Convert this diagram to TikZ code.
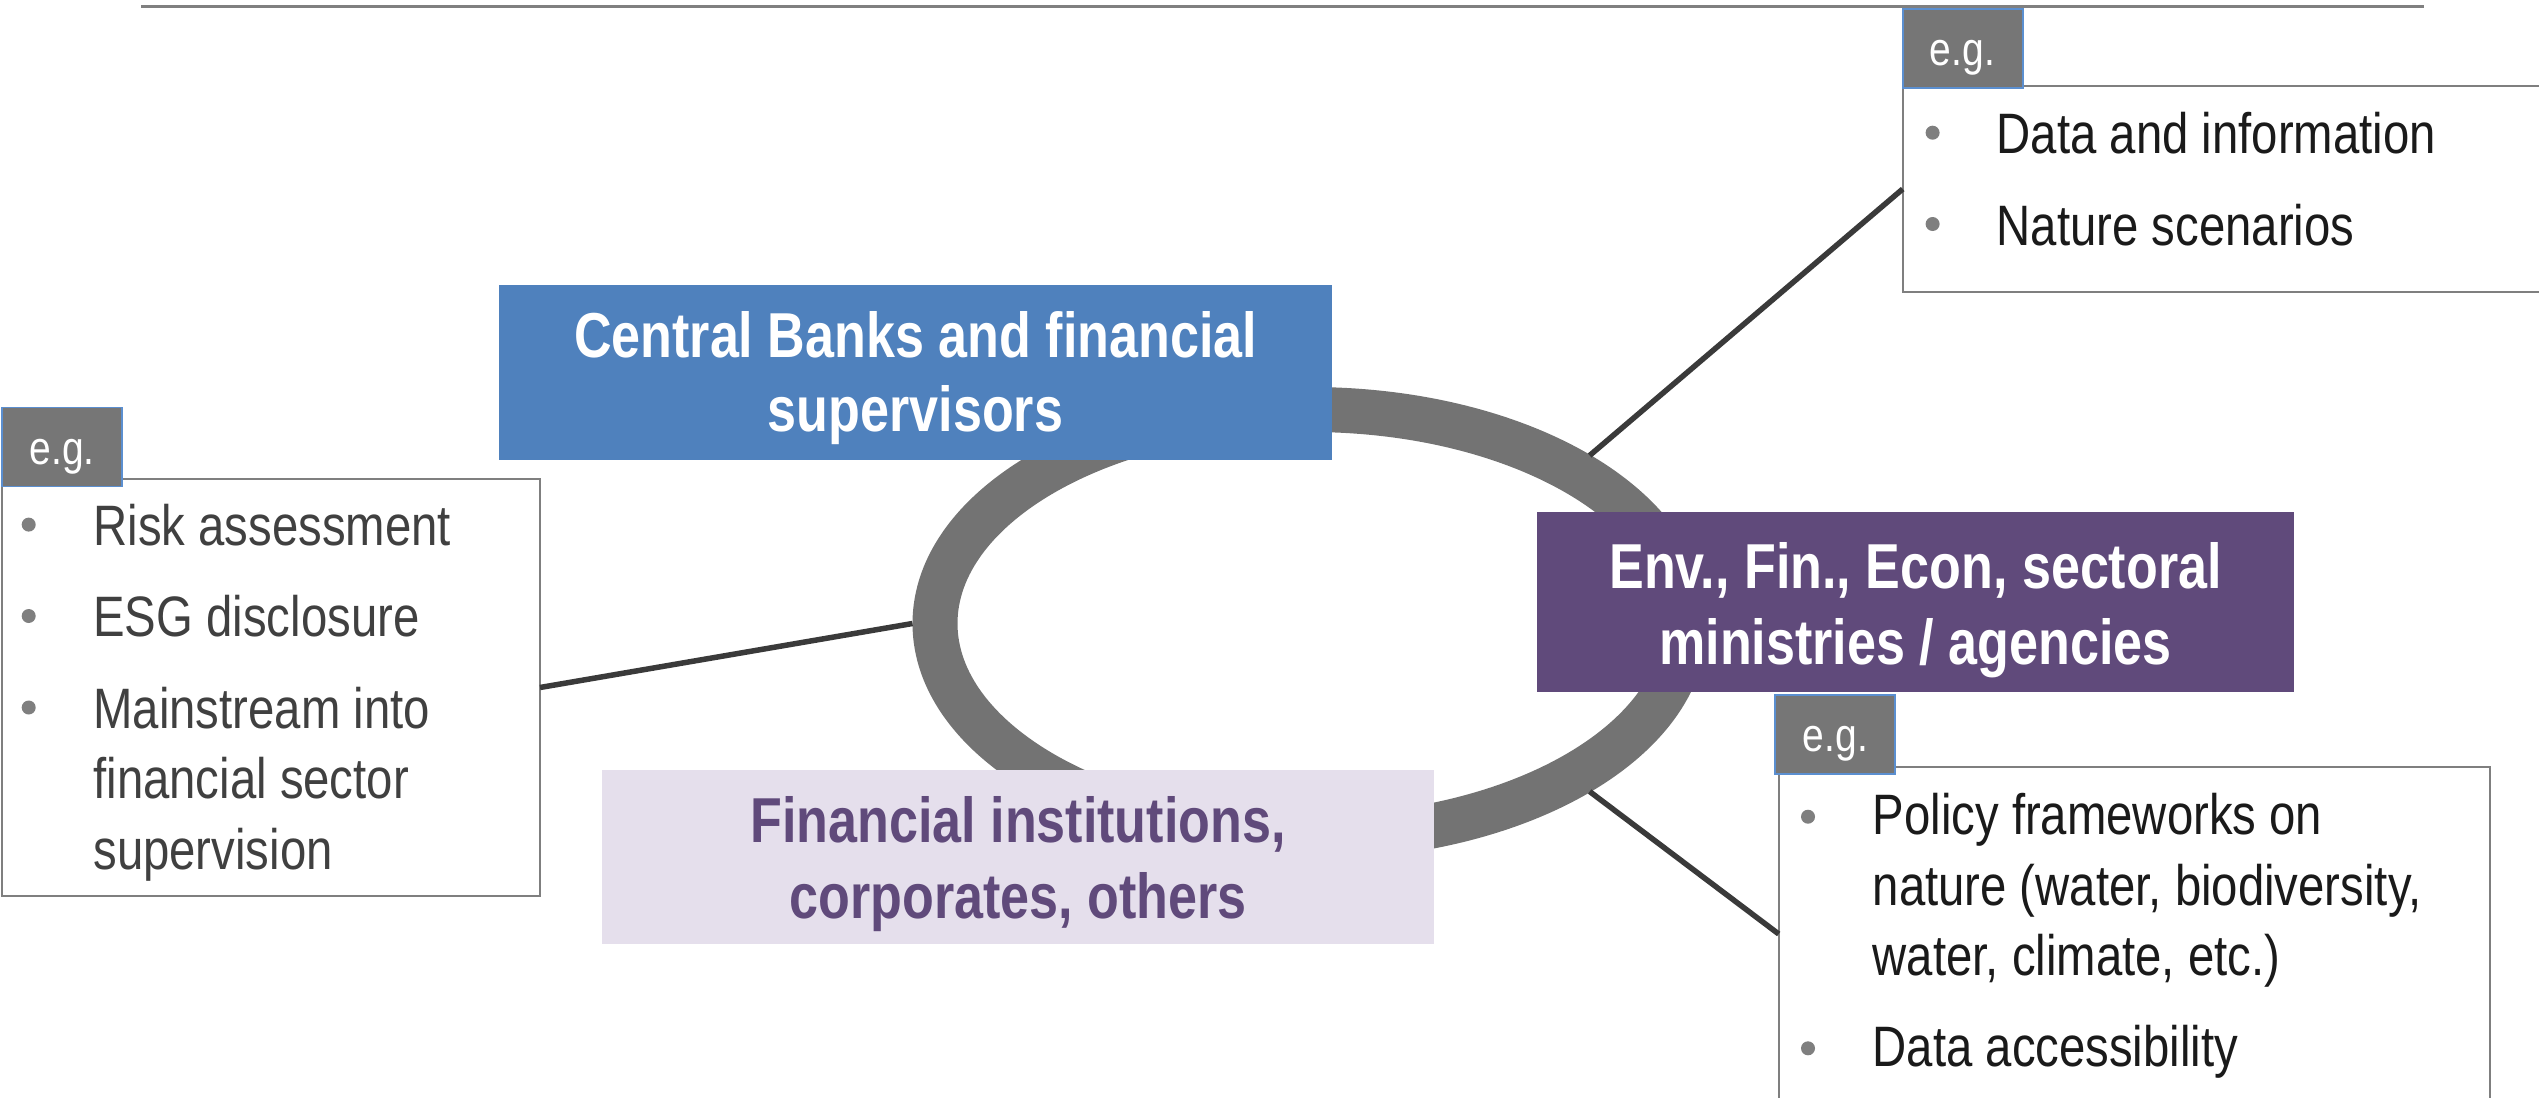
\documentclass[tikz,border=0pt]{standalone}
\usepackage{fontspec}
\setmainfont{Liberation Sans}[FakeStretch=0.83]
\newfontfamily\titlefont{Liberation Sans Bold}[FakeStretch=0.82]
\usetikzlibrary{shapes.geometric}
\definecolor{cbblue}{RGB}{79,129,189}
\definecolor{minpurple}{RGB}{96,74,123}
\definecolor{lavender}{RGB}{229,223,236}
\definecolor{ringgray}{RGB}{115,115,115}
\definecolor{conngray}{RGB}{58,58,58}
\definecolor{boxgray}{RGB}{127,127,127}
\definecolor{tabgray}{RGB}{118,118,118}
\definecolor{tabblue}{RGB}{91,143,208}
\definecolor{bulgray}{RGB}{127,127,127}
\definecolor{txtdark}{RGB}{64,64,64}
\definecolor{txtblack}{RGB}{26,26,26}
\definecolor{rulegray}{RGB}{128,128,128}
\begin{document}
\begin{tikzpicture}[x=0.5pt,y=-0.5pt,
  listbox/.style={draw=boxgray,line width=1pt,fill=white,inner sep=0,outer sep=0,anchor=north west},
  tabbox/.style={draw=tabblue,line width=0.8pt,fill=tabgray,inner sep=0,outer sep=0,anchor=north west,minimum width=60pt,minimum height=39.5pt},
  titlebox/.style={inner sep=0,outer sep=0,anchor=north west},
  egtext/.style={text=white,font=\fontsize{23.5}{28}\selectfont,inner sep=0,anchor=base},
  itemtext/.style={font=\fontsize{28.5}{35.5}\selectfont,inner sep=0,anchor=base west},
  titletext/.style={font=\titlefont\fontsize{31.75}{37.75}\selectfont,inner sep=0,anchor=base},
  bul/.style={circle,fill=bulgray,inner sep=0,minimum size=7pt},
  conn/.style={draw=conngray,line width=2.75pt}]
\useasboundingbox (0,0) rectangle (2539,1098);
% top rule
\coordinate (ruleL) at (141,6.5);
\coordinate (ruleR) at (2424,6.5);
\draw[rulegray,line width=1.3pt] (ruleL) -- (ruleR);
% ring
\node[ellipse,draw=ringgray,line width=22.5pt,inner sep=0,minimum width=375pt,minimum height=214pt] (ring) at (1310,623.5) {};
% list boxes
\node[listbox,minimum width=269pt,minimum height=208.5pt] (lbox) at (2,479) {};
\node[listbox,minimum width=320pt,minimum height=103.3pt] (trbox) at (1902.7,85.7) {};
\node[listbox,minimum width=355.5pt,minimum height=166.7pt] (lrbox) at (1778.7,767.3) {};
% connectors
\draw[conn] (lbox.east) -- (ring.west);
\draw[conn] (ring.31) -- (trbox.west);
\draw[conn] (ring.-31) -- (lrbox.west);
% title boxes
\node[titlebox,fill=cbblue,minimum width=416.5pt,minimum height=87.45pt] (cb) at (499,284.6) {};
\node[titlebox,fill=minpurple,minimum width=378.5pt,minimum height=90pt] (min) at (1537,511.7) {};
\node[titlebox,fill=lavender,minimum width=416pt,minimum height=87.1pt] (fi) at (602,769.8) {};
\node[titletext,text=white] (cb1) at (915.5,357.3) {Central Banks and financial};
\node[titletext,text=white] (cb2) at (915.5,431.9) {supervisors};
\node[titletext,text=white] (min1) at (1915.5,588.3) {Env., Fin., Econ, sectoral};
\node[titletext,text=white] (min2) at (1915.5,664) {ministries / agencies};
\node[titletext,text=minpurple] (fi1) at (1018,842.6) {Financial institutions,};
\node[titletext,text=minpurple] (fi2) at (1018,918.5) {corporates, others};
% tabs
\node[tabbox] (ltab) at (2,407.5) {};
\node[egtext] (ltabt) at (62,464.4) {e.g.};
\node[tabbox] (trtab) at (1902.7,9) {};
\node[egtext] (trtabt) at (1962.5,65) {e.g.};
\node[tabbox] (lrtab) at (1775.2,695) {};
\node[egtext] (lrtabt) at (1835.5,751.7) {e.g.};
% left list
\node[bul] (lb1) at (28.7,524.6) {};
\node[bul] (lb2) at (28.7,616) {};
\node[bul] (lb3) at (28.7,707.5) {};
\node[itemtext,text=txtdark] (l1) at (93,545.3) {Risk assessment};
\node[itemtext,text=txtdark] (l2) at (93,636.5) {ESG disclosure};
\node[itemtext,text=txtdark] (l3) at (93,728) {Mainstream into};
\node[itemtext,text=txtdark] (l4) at (93,798.5) {financial sector};
\node[itemtext,text=txtdark] (l5) at (93,869) {supervision};
% top right list
\node[bul] (tb1) at (1932.6,132.7) {};
\node[bul] (tb2) at (1932.6,224) {};
\node[itemtext,text=txtblack] (t1) at (1996.3,153.3) {Data and information};
\node[itemtext,text=txtblack] (t2) at (1996.3,245) {Nature scenarios};
% lower right list
\node[bul] (rb1) at (1808,816.7) {};
\node[bul] (rb2) at (1808,1048.3) {};
\node[itemtext,text=txtblack] (r1) at (1872.3,834) {Policy frameworks on};
\node[itemtext,text=txtblack] (r2) at (1872.3,905) {nature (water, biodiversity,};
\node[itemtext,text=txtblack] (r3) at (1872.3,975.5) {water, climate, etc.)};
\node[itemtext,text=txtblack] (r4) at (1872.3,1066.7) {Data accessibility};
\end{tikzpicture}
\end{document}
